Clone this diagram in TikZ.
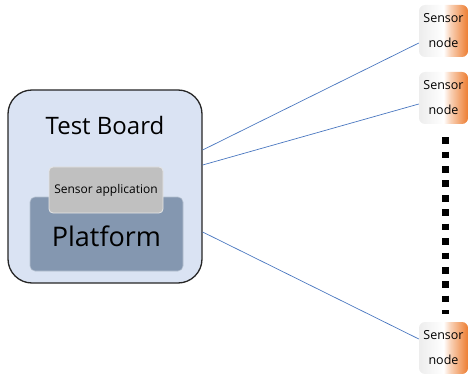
\documentclass[tikz,border=0pt]{standalone}
\usepackage{fontspec}
\setmainfont{Open Sans}
\definecolor{boardblue}{HTML}{DAE3F3}
\definecolor{platblue}{HTML}{8497B0}
\definecolor{appgray}{HTML}{C0C0C0}
\definecolor{linkblue}{HTML}{4A77C0}
\definecolor{sensorange}{HTML}{ED7D31}
\definecolor{sensgray}{HTML}{EDEDED}
\colorlet{sensmid}{sensorange!35!white}
\pgfdeclarehorizontalshading{sensorfade}{100bp}{color(0bp)=(sensgray); color(25bp)=(sensgray); color(50bp)=(white); color(57bp)=(sensmid); color(75bp)=(sensorange); color(100bp)=(sensorange)}

\begin{document}
\begin{tikzpicture}[x=1pt, y=-1pt,
    board/.style={draw=black!85, line width=1.3pt, fill=boardblue, rounded corners=24pt},
    platbox/.style={draw=platblue!60!white, line width=0.6pt, fill=platblue, rounded corners=5pt},
    appbox/.style={draw=white!90!black, line width=0.8pt, fill=appgray, rounded corners=4pt},
    sensbox/.style={shading=sensorfade, rounded corners=6pt, minimum width=49pt,
        minimum height=52pt, inner sep=0pt, align=center, font=\fontsize{12.5}{25}\selectfont},
    link/.style={draw=linkblue, line width=0.7pt},
    dots/.style={line width=7.3pt, dash pattern=on 6.7pt off 7.7pt}]
	\useasboundingbox (0,0) rectangle (468,374);
	% test board
	\node[board, minimum width=194pt, minimum height=193pt] (board) at (105,186.5) {};
	\node (title) at (105,126) {\fontsize{24}{28}\selectfont Test Board};
	\node[platbox, minimum width=153pt, minimum height=74pt] (plat) at (106.5,234) {};
	\node (platlbl) at (106.5,236) {\fontsize{27}{32}\selectfont Platform};
	\node[appbox, minimum width=114pt, minimum height=46pt, font=\fontsize{12}{14}\selectfont]
		(app) at (106,190) {Sensor application};
	% sensor nodes
	\node[sensbox] (s1) at (443.5,31) {Sensor\\node};
	\node[sensbox] (s2) at (443.5,98) {Sensor\\node};
	\node[sensbox] (s3) at (443.5,348) {Sensor\\node};
	\draw[dots] (445.5,137.3) -- (445.5,314);
	% links
	\draw[link] ([yshift=36.5pt]board.east) -- ([yshift=-12pt]s1.west);
	\draw[link] ([yshift=21.5pt]board.east) -- ([yshift=-6pt]s2.west);
	\draw[link] ([yshift=-45.5pt]board.east) -- ([yshift=9pt]s3.west);
\end{tikzpicture}
\end{document}
